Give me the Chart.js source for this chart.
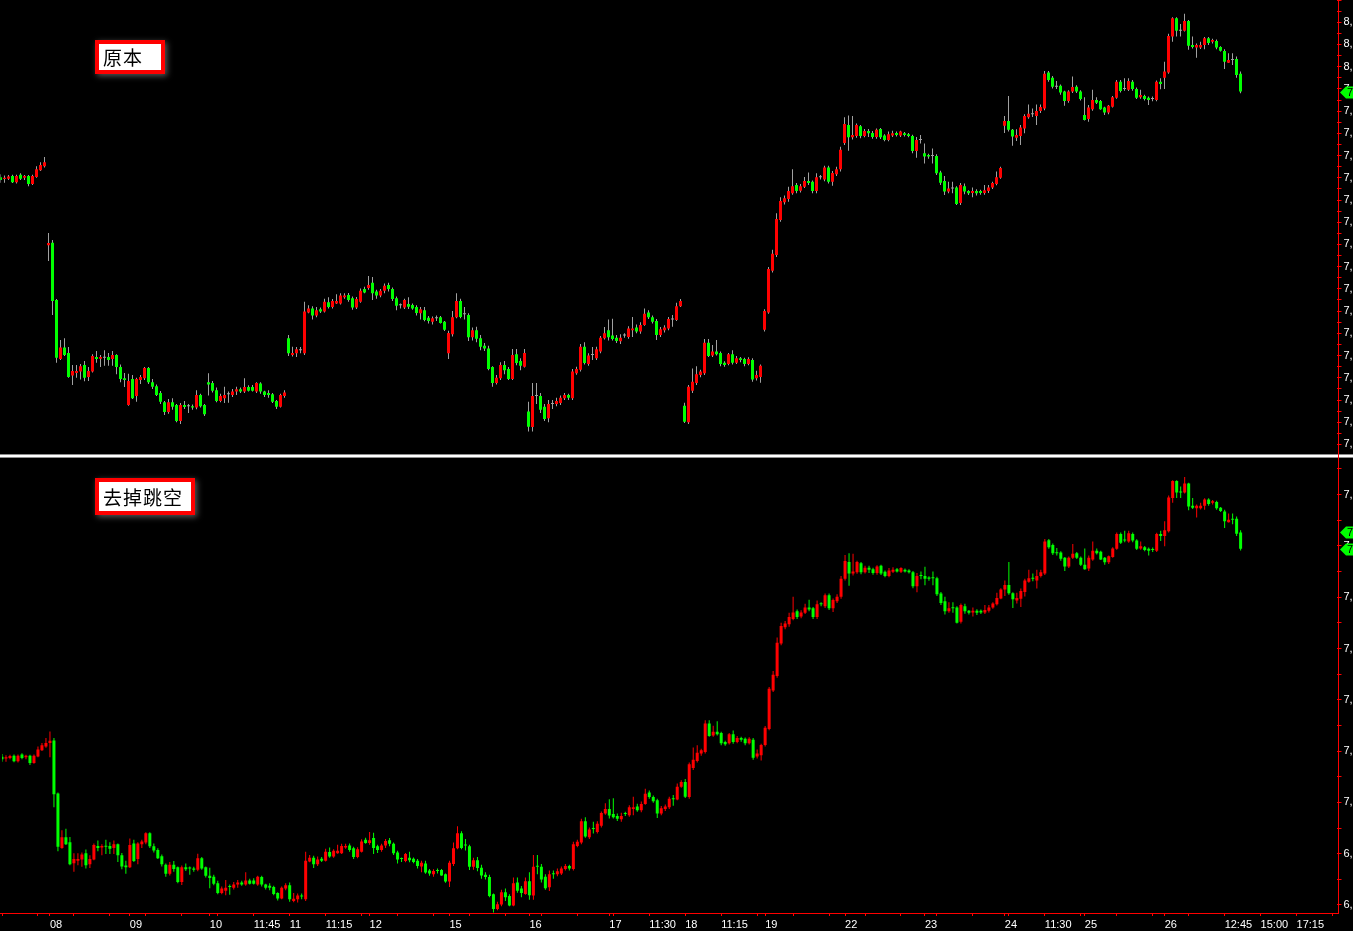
<!DOCTYPE html>
<html>
<head>
<meta charset="utf-8">
<script src="https://cdn.jsdelivr.net/npm/chart.js@4.4.1/dist/chart.umd.min.js"></script>
<style>
  html, body { margin: 0; padding: 0; background: #000; width: 1353px; height: 931px; overflow: hidden; }
  canvas { position: absolute; left: 0; }
  #topChart { top: 0; }
  #botChart { top: 458px; }
  .sep { position: absolute; left: 0; top: 454px; width: 1353px; height: 4px; box-sizing: border-box;
         background: #fff; border-top: 1px solid #8c8c8c; border-bottom: 1px solid #8c8c8c; }
  .vaxis { position: absolute; left: 1338px; top: 0; width: 1px; height: 914px; background: #f00; }
  .haxis { position: absolute; left: 0; top: 913px; width: 1339px; height: 1px; background: #f00; }
  .tag { position: absolute; left: 95px; box-sizing: border-box; background: #fff; border: 4px solid #f00;
         box-shadow: 2px 2px 6px rgba(255,255,255,0.35); color: #000;
         font-family: "Noto Sans CJK SC"; font-size: 19px; letter-spacing: 1px; padding-left: 4px; }
</style>
</head>
<body>
<canvas id="topChart" width="1400" height="452"></canvas>
<canvas id="botChart" width="1400" height="473"></canvas>
<div class="sep"></div>
<div class="vaxis"></div>
<div class="haxis"></div>
<div class="tag" style="top:40px;width:70px;height:34px;line-height:26px;">原本</div>
<div class="tag" style="top:478px;width:100px;height:37px;line-height:29px;">去掉跳空</div>
<script>
// 15-minute bars, raw prices (upper panel)
const openTop = [
  7751,7747,7748,7754,7740,7757,7750,7754,7736,7752,
  7767,7776,7598,7604,7475,7342,7368,7356,7305,7311,
  7314,7329,7302,7314,7347,7343,7345,7347,7342,7351,
  7324,7299,7239,7297,7259,7295,7299,7322,7290,7281,
  7266,7245,7223,7245,7239,7203,7239,7236,7236,7233,
  7261,7239,7290,7288,7272,7248,7254,7263,7261,7269,
  7274,7269,7279,7279,7269,7287,7269,7266,7263,7248,
  7235,7259,7389,7351,7355,7362,7355,7447,7456,7440,
  7454,7449,7470,7459,7467,7467,7481,7486,7479,7458,
  7471,7500,7502,7514,7494,7485,7496,7509,7500,7479,
  7463,7458,7466,7464,7459,7445,7452,7435,7426,7434,
  7436,7426,7355,7398,7436,7473,7443,7441,7391,7407,
  7389,7372,7366,7324,7288,7299,7329,7320,7297,7353,
  7338,7325,7224,7189,7259,7259,7235,7209,7241,7241,
  7243,7254,7261,7254,7310,7318,7370,7331,7351,7344,
  7359,7389,7407,7395,7390,7382,7395,7392,7407,7413,
  7404,7419,7447,7436,7428,7396,7407,7411,7431,7430,
  7461,7237,7200,7271,7288,7306,7310,7379,7350,7359,
  7356,7334,7331,7353,7334,7344,7342,7331,7340,7299,
  7302,7408,7447,7541,7576,7655,7695,7702,7715,7734,
  7721,7730,7743,7741,7720,7751,7746,7773,7741,7758,
  7769,7828,7869,7841,7844,7866,7844,7855,7851,7842,
  7860,7845,7835,7845,7851,7845,7850,7848,7844,7810,
  7835,7805,7801,7799,7799,7762,7743,7719,7726,7728,
  7693,7731,7720,7716,7720,7720,7716,7720,7728,7736,
  7750,7867,7878,7858,7840,7844,7861,7886,7893,7889,
  7900,7906,7987,7975,7955,7957,7944,7923,7944,7955,
  7944,7891,7882,7904,7925,7923,7908,7897,7910,7930,
  7966,7950,7948,7966,7950,7931,7934,7930,7927,7925,
  7966,7975,7987,8068,8109,8081,8081,8103,8049,8043,
  8043,8049,8064,8056,8058,8044,8035,8009,8015,8017,
  7984
];
const highTop = [
  7758,7755,7756,7757,7757,7760,7756,7756,7757,7776,
  7785,7797,7626,7610,7477,7385,7389,7369,7329,7329,
  7331,7338,7324,7353,7360,7351,7362,7356,7360,7353,
  7330,7311,7309,7306,7300,7306,7324,7324,7297,7285,
  7270,7248,7252,7254,7241,7243,7248,7241,7240,7272,
  7264,7241,7310,7293,7278,7264,7280,7269,7275,7280,
  7278,7299,7283,7284,7290,7290,7271,7272,7266,7250,
  7264,7272,7396,7370,7369,7369,7471,7463,7461,7459,
  7458,7478,7481,7477,7488,7490,7490,7491,7483,7482,
  7501,7505,7529,7527,7498,7500,7512,7514,7503,7483,
  7467,7478,7481,7467,7463,7459,7459,7439,7438,7440,
  7439,7428,7406,7450,7490,7478,7459,7445,7413,7415,
  7396,7378,7372,7326,7306,7335,7338,7324,7365,7365,
  7344,7365,7246,7288,7288,7266,7241,7250,7250,7255,
  7260,7266,7264,7320,7325,7376,7380,7355,7369,7370,
  7394,7414,7431,7433,7396,7398,7400,7416,7437,7420,
  7425,7456,7452,7440,7432,7414,7418,7437,7441,7469,
  7477,7244,7284,7321,7326,7318,7387,7387,7374,7385,
  7359,7337,7356,7362,7349,7347,7345,7346,7344,7316,
  7330,7454,7549,7588,7670,7706,7710,7730,7769,7738,
  7736,7752,7762,7744,7760,7756,7777,7777,7765,7775,
  7820,7886,7890,7889,7872,7869,7860,7860,7855,7861,
  7862,7848,7854,7856,7854,7856,7853,7851,7847,7842,
  7846,7827,7804,7816,7803,7766,7754,7741,7741,7731,
  7738,7737,7722,7728,7724,7723,7734,7734,7741,7764,
  7775,7889,7934,7860,7859,7869,7893,7915,7906,7915,
  7915,7990,7990,7979,7968,7960,7946,7947,7978,7958,
  7947,7931,7914,7948,7931,7925,7910,7914,7934,7970,
  7970,7974,7974,7970,7953,7948,7937,7933,7933,7969,
  7974,8011,8074,8111,8111,8096,8119,8105,8068,8052,
  8056,8067,8067,8063,8061,8046,8039,8030,8030,8023,
  7989
];
const lowTop = [
  7739,7739,7745,7738,7737,7745,7745,7731,7734,7750,
  7765,7773,7563,7441,7334,7340,7349,7300,7284,7300,
  7296,7292,7293,7312,7334,7324,7327,7327,7327,7308,
  7290,7279,7237,7252,7246,7286,7295,7286,7275,7259,
  7241,7216,7219,7228,7200,7196,7230,7221,7228,7229,
  7233,7214,7260,7267,7245,7245,7243,7244,7257,7261,
  7266,7266,7269,7269,7266,7264,7257,7255,7243,7230,
  7233,7255,7349,7348,7347,7355,7351,7445,7431,7436,
  7446,7447,7456,7456,7466,7465,7478,7471,7453,7455,
  7469,7490,7498,7475,7478,7481,7490,7494,7473,7452,
  7456,7455,7455,7453,7440,7431,7427,7422,7420,7428,
  7422,7405,7342,7393,7434,7434,7431,7383,7384,7380,
  7362,7360,7317,7280,7285,7295,7308,7295,7295,7328,
  7317,7323,7179,7179,7241,7221,7203,7200,7230,7236,
  7239,7250,7250,7250,7307,7314,7330,7327,7340,7340,
  7355,7386,7384,7384,7378,7376,7390,7388,7392,7400,
  7399,7417,7432,7422,7385,7392,7402,7407,7415,7428,
  7459,7198,7196,7266,7284,7301,7306,7347,7347,7350,
  7326,7325,7328,7330,7331,7335,7326,7328,7291,7294,
  7289,7404,7444,7537,7572,7651,7690,7696,7712,7715,
  7717,7727,7734,7715,7715,7746,7742,7737,7732,7754,
  7764,7824,7811,7836,7840,7839,7841,7842,7838,7838,
  7837,7832,7832,7842,7843,7842,7843,7841,7805,7795,
  7827,7782,7793,7782,7756,7734,7711,7715,7715,7689,
  7689,7713,7711,7706,7710,7712,7712,7716,7725,7733,
  7748,7851,7854,7822,7833,7824,7850,7883,7887,7869,
  7896,7902,7966,7951,7950,7937,7912,7919,7941,7941,
  7924,7879,7876,7901,7916,7903,7891,7893,7908,7928,
  7942,7946,7945,7946,7927,7928,7924,7914,7922,7922,
  7949,7950,7984,8056,8068,8068,8079,8038,8041,8020,
  8040,8039,8049,8052,8039,8034,7995,8008,8004,7975,
  7940
];
const closeTop = [
  7745,7750,7753,7740,7754,7748,7754,7736,7754,7769,
  7779,7785,7603,7473,7345,7368,7351,7302,7315,7315,
  7326,7300,7315,7349,7342,7347,7345,7340,7351,7324,
  7297,7295,7293,7254,7297,7302,7322,7290,7280,7261,
  7246,7223,7245,7235,7203,7239,7234,7236,7233,7261,
  7236,7218,7285,7271,7248,7259,7261,7263,7269,7274,
  7269,7279,7271,7271,7288,7269,7261,7261,7246,7235,
  7261,7267,7355,7356,7364,7362,7449,7456,7440,7452,
  7449,7471,7459,7473,7473,7485,7485,7475,7458,7477,
  7496,7492,7509,7490,7485,7496,7507,7500,7477,7462,
  7463,7475,7460,7456,7446,7454,7430,7428,7434,7434,
  7423,7408,7401,7436,7473,7437,7443,7391,7407,7388,
  7370,7366,7320,7288,7300,7329,7317,7297,7351,7333,
  7327,7356,7190,7259,7259,7228,7207,7241,7241,7248,
  7255,7261,7255,7314,7320,7370,7333,7350,7351,7364,
  7390,7400,7391,7387,7383,7390,7395,7411,7411,7404,
  7419,7444,7436,7426,7396,7409,7413,7432,7431,7461,
  7473,7201,7280,7291,7308,7314,7379,7349,7359,7353,
  7331,7329,7353,7334,7344,7340,7331,7342,7296,7306,
  7327,7450,7545,7579,7657,7698,7704,7720,7731,7720,
  7731,7743,7738,7720,7751,7751,7773,7741,7761,7769,
  7813,7871,7841,7846,7869,7844,7855,7850,7842,7858,
  7841,7835,7848,7850,7846,7854,7846,7844,7810,7835,
  7835,7798,7798,7799,7760,7739,7719,7726,7726,7691,
  7734,7719,7715,7720,7715,7716,7722,7728,7738,7751,
  7772,7878,7858,7843,7846,7863,7889,7894,7893,7900,
  7909,7984,7970,7955,7955,7942,7923,7944,7954,7944,
  7927,7880,7908,7925,7919,7904,7897,7912,7931,7966,
  7945,7950,7968,7950,7930,7936,7927,7925,7927,7966,
  7961,7989,8069,8109,8081,8081,8103,8047,8044,8049,
  8049,8064,8053,8060,8043,8036,8011,8015,8015,7981,
  7944
];

// first bar of each trading day; the lower panel removes the opening gap there
const dayStarts = [12, 32, 52, 72, 92, 112, 132, 152, 171, 191, 211, 231, 251, 271, 291];
const adjBase = -640;

// time axis
const slotCount = 335;
const timeTickIdx = [12, 32, 52, 63, 72, 81, 92, 112, 132, 152, 162, 171, 180, 191, 211, 231, 251, 261, 271, 291, 306, 315, 324];
const timeTickText = ['08', '09', '10', '11:45', '11', '11:15', '12', '15', '16', '17', '11:30', '18', '11:15', '19', '22', '23', '24', '11:30', '25', '26', '12:45', '15:00', '17:15'];

const RED = '#ff0000', GREEN = '#00ff00', GRAY = '#a0a0a0';

// gap-free series
const shift = [];
let acc = adjBase;
for (let i = 0; i < closeTop.length; i++) {
  if (dayStarts.includes(i)) acc -= openTop[i] - closeTop[i - 1];
  shift.push(acc);
}
const openAdj = openTop.map((v, i) => v + shift[i]);
const highAdj = highTop.map((v, i) => v + shift[i]);
const lowAdj = lowTop.map((v, i) => v + shift[i]);
const closeAdj = closeTop.map((v, i) => v + shift[i]);

const slots = Array.from({ length: slotCount }, (_, i) => i);
const labelAt = {};
timeTickIdx.forEach((idx, k) => { labelAt[idx] = timeTickText[k]; });
const markAt = new Set(dayStarts.concat(slots.filter(i => i % 9 === 0)));

const fmt = v => Math.round(v).toLocaleString('en-US');

const priceMarks = {
  id: 'priceMarks',
  afterDraw(chart, args, opts) {
    const ctx = chart.ctx;
    const x0 = chart.chartArea.right + 3.5;
    ctx.save();
    opts.values.forEach(v => {
      const y = Math.round(chart.scales.y.getPixelForValue(v)) + 0.5;
      ctx.fillStyle = GREEN;
      ctx.beginPath();
      ctx.moveTo(x0, y);
      ctx.lineTo(x0 + 6, y - 6);
      ctx.lineTo(x0 + 60, y - 6);
      ctx.lineTo(x0 + 60, y + 6);
      ctx.lineTo(x0 + 6, y + 6);
      ctx.closePath();
      ctx.fill();
      ctx.fillStyle = '#000';
      ctx.font = '11px "Liberation Sans"';
      ctx.textBaseline = 'middle';
      ctx.fillText(fmt(v), x0 + 7, y + 0.5);
    });
    ctx.restore();
  }
};

function candleChart(id, o, h, l, c, cfg) {
  const bodyColor = o.map((v, i) => c[i] > v ? RED : c[i] < v ? GREEN : cfg.flatColor);
  const wickColor = cfg.wickGray ? GRAY : bodyColor;
  return new Chart(document.getElementById(id), {
    type: 'bar',
    data: {
      labels: slots,
      datasets: [
        { data: o.map((v, i) => [v, c[i]]), backgroundColor: bodyColor, barThickness: 3,
          minBarLength: 1, grouped: false, borderWidth: 0, inflateAmount: 0 },
        { data: l.map((v, i) => [v, h[i]]), backgroundColor: wickColor, barThickness: 1,
          minBarLength: 1, grouped: false, borderWidth: 0, inflateAmount: 0 }
      ]
    },
    options: {
      responsive: false,
      animation: false,
      devicePixelRatio: 1,
      events: [],
      layout: { autoPadding: false, padding: { left: 0.5, right: 0, top: 0, bottom: 0 } },
      plugins: { legend: { display: false }, tooltip: { enabled: false }, priceMarks: { values: cfg.marks } },
      scales: {
        x: {
          type: 'category',
          offset: false,
          display: cfg.showTime,
          border: { display: false },
          grid: {
            offset: false, drawOnChartArea: false, drawTicks: true, tickLength: 3,
            color: ctx => markAt.has(ctx.index) ? RED : 'rgba(0,0,0,0)'
          },
          ticks: {
            autoSkip: false, maxRotation: 0, minRotation: 0, align: 'start', padding: 2,
            color: '#ffffff', font: { family: 'Liberation Sans', size: 11 },
            callback: (v, i) => labelAt[i] || ''
          },
          afterFit: s => { s.height = cfg.showTime ? 18 : 0; }
        },
        y: {
          position: 'right',
          min: cfg.min,
          max: cfg.max,
          border: { display: false },
          grid: { drawOnChartArea: false, drawTicks: true, tickLength: 5, color: RED },
          ticks: {
            stepSize: cfg.step / 2, includeBounds: false, padding: 2,
            color: '#ffffff', font: { family: 'Liberation Sans', size: 11, lineHeight: 0.05 },
            callback: v => (Math.abs(v % cfg.step) < 0.01 && v <= cfg.lastLabel) ? fmt(v) : ''
          },
          afterFit: s => { s.width = 63.5; s.paddingTop = 0; s.paddingBottom = 0; }
        }
      }
    },
    plugins: [priceMarks]
  });
}

const last = closeTop.length - 1;
candleChart('topChart', openTop, highTop, lowTop, closeTop, {
  min: 7133, max: 8150, step: 50, lastLabel: 8100, showTime: false,
  wickGray: true, flatColor: GRAY, marks: [closeTop[last]]
});
candleChart('botChart', openAdj, highAdj, lowAdj, closeAdj, {
  min: 6730.5, max: 7839.3, step: 125, lastLabel: 7750, showTime: true,
  wickGray: false, flatColor: GREEN, marks: [openAdj[last], closeAdj[last]]
});
</script>
</body>
</html>
